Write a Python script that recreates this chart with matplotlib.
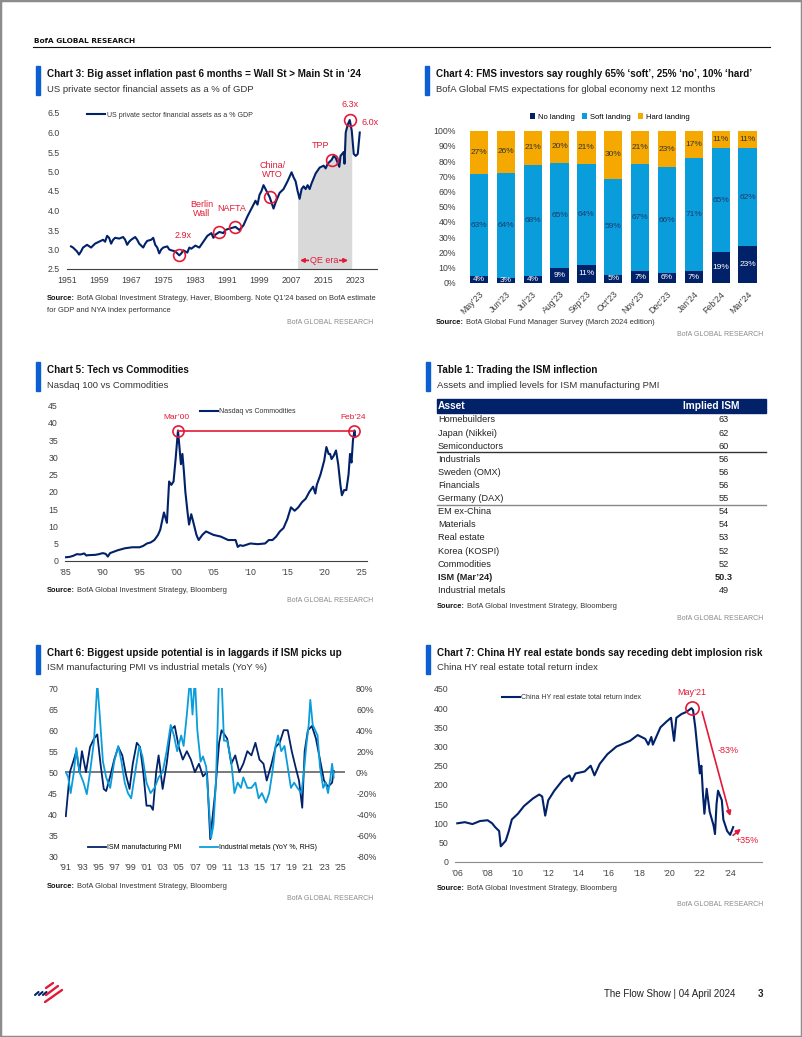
import matplotlib.pyplot as plt
import numpy as np
from matplotlib.patches import Rectangle
from matplotlib.lines import Line2D
from matplotlib.transforms import ScaledTranslation

plt.rcParams['font.family'] = ['Liberation Sans Narrow', 'Liberation Sans', 'DejaVu Sans']

NAVY = '#012169'
LBLUE = '#0a9ddb'
GOLD = '#f5a800'
RED = '#e31937'
BARBLUE = '#0b5fd3'
TXT = '#404040'

# ---- Chart 3: US private sector financial assets as % of GDP
years3 = [1952.0, 1952.5, 1953.0, 1953.5, 1954.0, 1954.5, 1955.0, 1956.0, 1957.0, 1957.5,
          1958.0, 1959.0, 1960.0, 1960.5, 1961.0, 1961.5, 1962.0, 1962.5, 1963.0, 1964.0,
          1965.0, 1965.5, 1966.0, 1966.5, 1967.0, 1968.0, 1968.5, 1969.0, 1970.0, 1970.5,
          1971.0, 1972.0, 1972.5, 1973.0, 1973.5, 1974.0, 1974.5, 1975.0, 1976.0, 1976.5,
          1977.0, 1978.0, 1979.0, 1979.5, 1980.0, 1981.0, 1981.5, 1982.0, 1983.0, 1984.0,
          1985.0, 1986.0, 1987.0, 1987.5, 1988.0, 1989.0, 1990.0, 1990.5, 1991.0, 1992.0,
          1993.0, 1994.0, 1995.0, 1996.0, 1997.0, 1998.0, 1998.5, 1999.0, 1999.5, 2000.0,
          2000.5, 2001.0, 2001.5, 2002.0, 2002.5, 2003.0, 2004.0, 2005.0, 2006.0, 2007.0,
          2007.5, 2008.0, 2008.5, 2009.0, 2009.5, 2010.0, 2010.5, 2011.0, 2011.5, 2012.0,
          2013.0, 2014.0, 2015.0, 2015.5, 2016.0, 2017.0, 2017.5, 2018.0, 2018.9, 2019.2,
          2020.0, 2020.2, 2020.5, 2021.0, 2021.5, 2022.0, 2022.5, 2023.0, 2023.5, 2024.0]
assets3 = [3.08, 3.05, 3.00, 2.95, 2.87, 2.95, 3.05, 3.12, 3.05, 3.10,
           3.15, 3.20, 3.25, 3.20, 3.35, 3.30, 3.15, 3.25, 3.30, 3.28,
           3.32, 3.25, 3.12, 3.20, 3.25, 3.32, 3.25, 3.15, 3.05, 3.15,
           3.22, 3.25, 3.30, 3.12, 3.05, 2.90, 3.00, 3.05, 3.08, 3.00,
           2.98, 2.95, 2.85, 2.90, 2.98, 2.92, 3.05, 3.02, 3.10, 3.05,
           3.20, 3.35, 3.42, 3.30, 3.38, 3.45, 3.42, 3.50, 3.52, 3.55,
           3.58, 3.50, 3.62, 3.85, 4.05, 4.25, 4.15, 4.40, 4.50, 4.65,
           4.55, 4.45, 4.35, 4.20, 4.05, 4.20, 4.45, 4.55, 4.75, 4.98,
           4.85, 4.75, 4.50, 4.30, 4.55, 4.62, 4.55, 4.65, 4.55, 4.70,
           4.95, 5.10, 5.15, 5.08, 5.20, 5.30, 5.40, 5.35, 5.12, 5.40,
           5.50, 5.20, 6.00, 6.20, 6.32, 6.05, 5.45, 5.40, 5.45, 6.00]
event_years3 = [1979.0, 1989.0, 1993.0, 2001.5, 2017.0, 2021.5]
event_labels3 = ['2.9x', 'Berlin\nWall', 'NAFTA', 'China/\nWTO', 'TPP', '6.3x']

# ---- Chart 4: FMS landing expectations
months4 = ['May’23', 'Jun’23', 'Jul’23', 'Aug’23', 'Sep’23', 'Oct’23',
           'Nov’23', 'Dec’23', 'Jan’24', 'Feb’24', 'Mar’24']
no_landing = [4, 3, 4, 9, 11, 5, 7, 6, 7, 19, 23]
soft_landing = [63, 64, 68, 65, 64, 59, 67, 66, 71, 65, 62]
hard_landing = [27, 26, 21, 20, 21, 30, 21, 23, 17, 11, 11]

# ---- Chart 5: Nasdaq 100 vs commodities
years5 = [1985.0, 1985.5, 1986.0, 1986.5, 1987.0, 1987.5, 1987.8, 1988.0, 1989.0, 1989.5,
          1990.0, 1990.4, 1990.7, 1991.0, 1991.5, 1992.0, 1993.0, 1994.0, 1995.0, 1995.5,
          1996.0, 1996.5, 1997.0, 1997.5, 1997.8, 1998.3, 1998.7, 1999.0, 1999.3, 1999.6,
          1999.9, 2000.2, 2000.4, 2000.6, 2000.8, 2001.0, 2001.2, 2001.5, 2001.7, 2002.0,
          2002.3, 2002.7, 2003.0, 2003.5, 2004.0, 2004.5, 2005.0, 2006.0, 2007.0, 2008.0,
          2008.3, 2008.6, 2009.0, 2010.0, 2011.0, 2012.0, 2012.5, 2013.0, 2013.5, 2014.0,
          2014.5, 2015.0, 2015.5, 2016.0, 2016.5, 2017.0, 2017.5, 2018.0, 2018.5, 2018.8,
          2019.0, 2019.5, 2020.0, 2020.3, 2020.6, 2020.8, 2021.0, 2021.3, 2021.6, 2021.9,
          2022.2, 2022.4, 2022.7, 2023.0, 2023.3, 2023.5, 2023.7, 2023.9, 2024.1, 2024.2]
tech5 = [1.0, 1.1, 1.4, 1.9, 1.8, 2.1, 1.5, 1.6, 1.7, 1.9,
         2.2, 2.0, 1.2, 2.2, 2.6, 3.0, 3.6, 3.9, 3.9, 4.3,
         5.0, 5.3, 6.0, 7.5, 9.0, 14.0, 11.0, 23.0, 22.0, 23.0,
         30.0, 37.8, 33.0, 28.0, 31.0, 26.0, 20.0, 14.0, 10.5, 13.5,
         11.0, 7.5, 6.0, 7.5, 8.5, 8.0, 7.5, 7.0, 6.0, 6.0,
         4.0, 4.5, 4.3, 5.0, 4.8, 5.0, 6.0, 6.0, 7.0, 8.5,
         9.5, 12.0, 15.5, 14.5, 15.5, 17.0, 18.0, 20.0, 21.5, 19.5,
         22.0, 25.0, 29.0, 33.0, 31.0, 31.0, 29.5, 30.5, 32.0, 28.0,
         22.0, 19.0, 20.5, 20.5, 25.0, 31.0, 28.5, 35.0, 37.8, 36.0]

# ---- Table 1: implied ISM levels
table_assets = ['Homebuilders', 'Japan (Nikkei)', 'Semiconductors', 'Industrials', 'Sweden (OMX)',
                'Financials', 'Germany (DAX)', 'EM ex-China', 'Materials', 'Real estate',
                'Korea (KOSPI)', 'Commodities', 'ISM (Mar’24)', 'Industrial metals']
table_ism = [63, 62, 60, 56, 56, 56, 55, 54, 54, 53, 52, 52, 50.3, 49]

# ---- Chart 6: ISM PMI vs industrial metals YoY
ism_years = [1991.0, 1991.5, 1992.0, 1992.3, 1992.7, 1993.0, 1993.5, 1994.0, 1994.5, 1994.9,
             1995.3, 1995.7, 1996.0, 1996.5, 1997.0, 1997.5, 1998.0, 1998.5, 1998.9, 1999.3,
             1999.8, 2000.2, 2000.6, 2001.0, 2001.5, 2001.8, 2002.2, 2002.5, 2003.0, 2003.5,
             2004.0, 2004.5, 2005.0, 2005.5, 2006.0, 2006.5, 2007.0, 2007.5, 2008.0, 2008.5,
             2008.9, 2009.5, 2010.0, 2010.3, 2011.0, 2011.5, 2012.0, 2012.5, 2013.0, 2013.5,
             2014.0, 2014.5, 2015.0, 2015.5, 2015.9, 2016.5, 2017.0, 2017.5, 2018.0, 2018.5,
             2019.0, 2019.5, 2019.9, 2020.3, 2020.6, 2021.0, 2021.5, 2022.0, 2022.5, 2023.0,
             2023.5, 2024.0, 2024.2]
ism_pmi = [39.5, 50, 53, 55, 50, 55, 50, 56, 58, 59,
           52, 46, 45.5, 49, 53, 56, 54, 49, 46, 52,
           57, 56, 50, 42, 42, 41, 50, 54, 46, 52,
           60, 61, 56, 53, 55, 53, 50, 52, 49, 50,
           34, 45, 57, 60, 58, 52, 54, 50, 52, 55,
           54, 57, 53, 52, 48, 52, 56, 57, 60, 60,
           55, 51, 48, 41.5, 55, 60, 61, 58, 53, 48,
           46.5, 47.5, 50.3]
metal_years = [1991.0, 1991.3, 1991.6, 1992.0, 1992.3, 1992.7, 1993.2, 1993.6, 1994.0, 1994.5,
               1994.9, 1995.2, 1995.6, 1996.0, 1996.5, 1997.0, 1997.5, 1997.9, 1998.3, 1998.7,
               1999.1, 1999.6, 2000.1, 2000.5, 2001.0, 2001.5, 2002.0, 2002.5, 2003.0, 2003.5,
               2004.0, 2004.4, 2004.8, 2005.3, 2005.6, 2006.0, 2006.4, 2006.7, 2007.0, 2007.3,
               2007.7, 2008.0, 2008.4, 2008.8, 2009.0, 2009.3, 2009.6, 2009.8, 2010.0, 2010.3,
               2010.6, 2011.0, 2011.5, 2011.9, 2012.3, 2012.7, 2013.0, 2013.5, 2014.0, 2014.5,
               2014.9, 2015.3, 2015.8, 2016.2, 2016.6, 2017.0, 2017.3, 2017.7, 2018.1, 2018.5,
               2018.9, 2019.3, 2019.7, 2020.2, 2020.5, 2020.8, 2021.1, 2021.3, 2021.6, 2021.9,
               2022.2, 2022.5, 2022.9, 2023.2, 2023.5, 2023.8, 2024.0, 2024.2]
metals_yoy = [0, -5, -20, 0, 23, 0, -10, -21, 0, 30,
              85, 55, 10, -5, -15, 10, 25, 10, -10, -20,
              -25, 0, 25, 15, -10, -20, -15, -5, 0, 20,
              45, 35, 20, 35, 25, 55, 90, 55, 90, 40,
              10, 15, 5, -40, -63, -50, -10, 40, 95, 90,
              30, 30, 10, -20, -10, -15, -5, -15, -15, -10,
              -25, -20, -29, -20, 0, 25, 35, 20, 25, 5,
              -15, -10, -15, -20, 0, 25, 45, 69, 45, 40,
              35, 5, -15, -10, -20, -5, 8, -5]

# ---- Chart 7: China HY real estate total return index
years7 = [2006.0, 2006.5, 2007.0, 2007.5, 2008.0, 2008.3, 2008.5, 2008.76, 2008.87, 2009.2,
          2009.4, 2009.6, 2010.0, 2010.4, 2011.0, 2011.4, 2011.6, 2011.8, 2012.0, 2012.4,
          2013.0, 2013.4, 2013.55, 2013.8, 2014.4, 2014.8, 2015.05, 2015.4, 2015.9, 2016.5,
          2017.4, 2017.9, 2018.4, 2018.6, 2018.8, 2018.9, 2019.4, 2019.8, 2020.1, 2020.3,
          2020.45, 2020.8, 2021.1, 2021.45, 2021.55, 2021.7, 2021.85, 2022.0, 2022.1, 2022.2,
          2022.3, 2022.45, 2022.65, 2022.9, 2023.0, 2023.1, 2023.2, 2023.45, 2023.55, 2023.8,
          2024.0, 2024.2]
china_hy = [100, 103, 98, 106, 108, 100, 90, 80, 40, 55,
            80, 110, 125, 145, 165, 175, 170, 120, 160, 185,
            215, 225, 210, 230, 235, 250, 225, 255, 280, 300,
            315, 330, 320, 305, 325, 305, 350, 365, 375, 315,
            375, 385, 390, 400, 395, 350, 290, 230, 250, 180,
            125, 190, 130, 95, 72, 150, 185, 160, 110, 80,
            70, 90]

W, H = 802, 1037
fig = plt.figure(figsize=(W / 100, H / 100), dpi=100)
renderer = fig.canvas.get_renderer()


def box(l, t, r, b):
    return [l / W, 1 - b / H, (r - l) / W, (b - t) / H]


def ftext(x, y, s, **kw):
    kw.setdefault('va', 'center')
    return fig.text(x / W, 1 - y / H, s, **kw)


def seg(x0, y0, x1, y1, **kw):
    fig.add_artist(Line2D([x0 / W, x1 / W], [1 - y0 / H, 1 - y1 / H], **kw))


def heading(x, y, title, sub):
    fig.patches.append(Rectangle(((x - 11) / W, 1 - (y + 21) / H), 3.5 / W, 29 / H,
                                 transform=fig.transFigure, color=BARBLUE))
    ftext(x, y, title, fontsize=7.1, fontweight='bold', color='#111111')
    ftext(x, y + 15, sub, fontsize=6.8, color='#333333')


def source(x, y, lines):
    t = ftext(x, y, 'Source:', fontsize=5.4, fontweight='bold', color='#111111')
    x1 = t.get_window_extent(renderer).x1
    ftext(x1 + 2, y, lines[0], fontsize=5.4, color='#333333')
    for i, ln in enumerate(lines[1:]):
        ftext(x, y + 12 * (i + 1), ln, fontsize=5.4, color='#333333')


def brand(xr, y):
    ftext(xr, y, 'BofA GLOBAL RESEARCH', fontsize=5.0, color='#8a8a8a', ha='right')


def style(ax, bottom=True, spine='#404040'):
    for s in ['top', 'right', 'left']:
        ax.spines[s].set_visible(False)
    ax.spines['bottom'].set_visible(bottom)
    ax.spines['bottom'].set_color(spine)
    ax.tick_params(length=0, labelsize=6.3, labelcolor=TXT)
    ax.tick_params(axis='x', pad=5)
    ax.tick_params(axis='y', pad=5)
    ax.set_facecolor('none')


def small_legend(ax, x, y, **kw):
    leg = ax.legend(loc='center left', bbox_to_anchor=(x, y), frameon=False, fontsize=5.0,
                    borderpad=0, borderaxespad=0, handlelength=2.6, handletextpad=0.2, **kw)
    for t in leg.get_texts():
        t.set_color('#333333')
    return leg


# page furniture
ftext(34, 41, 'BofA GLOBAL RESEARCH', fontsize=5.3, fontweight='bold', family='DejaVu Sans', color='#111111')
seg(33, 47, 770, 47, color='#111111', lw=0.8)
fig.patches.append(Rectangle((0, 0), 1, 1, transform=fig.transFigure, fill=False,
                             edgecolor='#8c8c8c', lw=2.5))

# ================= Chart 3
heading(47, 74, 'Chart 3: Big asset inflation past 6 months = Wall St > Main St in ‘24',
        'US private sector financial assets as a % of GDP')
ax3 = fig.add_axes(box(67, 113, 377, 269))
y3 = np.array(years3)
v3 = np.array(assets3)
ax3.plot(y3, v3, color=NAVY, lw=1.5, label='US private sector financial assets as a % GDP')
ax3.fill_between(y3, 2.5, v3, where=(y3 >= 2008.5) & (y3 <= 2022.0), color='#d9d9d9', lw=0, zorder=0)
ax3.set_xlim(1951, 2028.3)
ax3.set_ylim(2.5, 6.5)
ax3.set_xticks(range(1951, 2024, 8))
ax3.set_yticks(np.arange(2.5, 6.51, 0.5))
ax3.set_yticklabels([f'{v:.1f}' for v in np.arange(2.5, 6.51, 0.5)])
style(ax3)
small_legend(ax3, 0.065, 0.985)
offsets3 = [(3, 11), (-13, 10), (-3, 10), (2, 13), (-8, 7), (0, 8)]
for yr, lab, off in zip(event_years3, event_labels3, offsets3):
    val = assets3[years3.index(yr)]
    ax3.plot(yr, val, 'o', ms=8.5, mfc='none', mec=RED, mew=1.2)
    ax3.annotate(lab, (yr, val), xytext=off, textcoords='offset points', ha='center',
                 va='bottom', fontsize=6.5, color=RED, linespacing=1.0)
ax3.annotate('6.0x', (years3[-1], assets3[-1]), xytext=(1, 4), textcoords='offset points',
             ha='left', va='bottom', fontsize=6.5, color=RED)
ax3.annotate('', xy=(2008.4, 2.72), xytext=(2021.8, 2.72),
             arrowprops=dict(arrowstyle='<|-|>', color=RED, lw=1.2, mutation_scale=6))
ax3.text(2015.1, 2.72, 'QE era', ha='center', va='center', fontsize=6.5, color=RED,
         bbox=dict(fc='#d9d9d9', ec='none', pad=0.5))
source(47, 298, ['BofA Global Investment Strategy, Haver, Bloomberg. Note Q1’24 based on BofA estimate',
                 'for GDP and NYA Index performance'])
brand(373, 322)

# ================= Chart 4
heading(436, 74, 'Chart 4: FMS investors say roughly 65% ‘soft’, 25% ‘no’, 10% ‘hard’',
        'BofA Global FMS expectations for global economy next 12 months')
ax4 = fig.add_axes(box(465.5, 130.7, 761, 282.7))
no_a = np.array(no_landing, float)
soft_a = np.array(soft_landing, float)
hard_a = np.array(hard_landing, float)
tot = no_a + soft_a + hard_a
x4 = np.arange(len(months4))
b1 = ax4.bar(x4, no_a / tot, width=0.68, color=NAVY, label='No landing')
b2 = ax4.bar(x4, soft_a / tot, width=0.68, bottom=no_a / tot, color=LBLUE, label='Soft landing')
b3 = ax4.bar(x4, hard_a / tot, width=0.68, bottom=(no_a + soft_a) / tot, color=GOLD, label='Hard landing')
ax4.bar_label(b1, labels=[f'{v}%' for v in no_landing], label_type='center', color='white', fontsize=6)
ax4.bar_label(b2, labels=[f'{v}%' for v in soft_landing], label_type='center', color='#1d3a6b', fontsize=6)
ax4.bar_label(b3, labels=[f'{v}%' for v in hard_landing], label_type='center', color='#333333', fontsize=6)
ax4.set_xlim(-0.5, len(months4) - 0.5)
ax4.set_ylim(0, 1)
ax4.set_yticks(np.arange(0, 1.01, 0.1))
ax4.set_yticklabels([f'{int(round(v * 100))}%' for v in np.arange(0, 1.01, 0.1)])
ax4.set_xticks(x4)
ax4.set_xticklabels(months4, rotation=45, ha='right', rotation_mode='anchor')
for lbl in ax4.get_xticklabels():
    lbl.set_transform(lbl.get_transform() + ScaledTranslation(0.05, 0, fig.dpi_scale_trans))
style(ax4, bottom=False)
ax4.tick_params(axis='y', pad=7)
leg4 = ax4.legend(loc='center left', bbox_to_anchor=(0.218, 1.09), ncol=3, frameon=False,
                  fontsize=5.5, borderpad=0, borderaxespad=0, handlelength=0.7, handleheight=0.7,
                  handletextpad=0.3, columnspacing=1.0)
source(436, 323, ['BofA Global Fund Manager Survey (March 2024 edition)'])
brand(763, 335)

# ================= Chart 5
heading(47, 370, 'Chart 5: Tech vs Commodities', 'Nasdaq 100 vs Commodities')
ax5 = fig.add_axes(box(65, 405.7, 367, 560.7))
ax5.plot(years5, tech5, color=NAVY, lw=1.5, label='Nasdaq vs Commodities')
ax5.set_xlim(1984.9, 2025.8)
ax5.set_ylim(0, 45)
ax5.set_yticks(range(0, 46, 5))
ax5.set_xticks(range(1985, 2026, 5))
ax5.set_xticklabels([f'’{y % 100:02d}' for y in range(1985, 2026, 5)])
style(ax5)
small_legend(ax5, 0.447, 0.961)
i00, i24 = years5.index(2000.2), years5.index(2024.1)
ax5.plot([years5[i00], years5[i24]], [tech5[i00], tech5[i00]], color=RED, lw=1.2)
for i, lab in [(i00, 'Mar’00'), (i24, 'Feb’24')]:
    ax5.plot(years5[i], tech5[i], 'o', ms=8, mfc='none', mec=RED, mew=1.2)
    ax5.annotate(lab, (years5[i], tech5[i]), xytext=(-1, 7), textcoords='offset points',
                 ha='center', va='bottom', fontsize=6, color=RED)
source(47, 590, ['BofA Global Investment Strategy, Bloomberg'])
brand(373, 601)

# ================= Table 1
heading(437, 370, 'Table 1: Trading the ISM inflection', 'Assets and implied levels for ISM manufacturing PMI')
fig.patches.append(Rectangle((436.7 / W, 1 - 412.7 / H), (766 - 436.7) / W, 13.4 / H,
                             transform=fig.transFigure, color=NAVY))
ftext(438, 406, 'Asset', fontsize=7.3, fontweight='bold', color='white')
ftext(739, 406, 'Implied ISM', fontsize=7.3, fontweight='bold', color='white', ha='right')
for i, (name, val) in enumerate(zip(table_assets, table_ism)):
    ry = 420 + i * 13.1
    wt = 'bold' if name.startswith('ISM') else 'normal'
    ftext(438, ry, name, fontsize=6.6, color='#222222', fontweight=wt)
    ftext(724, ry, f'{val:g}', fontsize=6.6, color='#222222', fontweight=wt, ha='center')
seg(436.7, 452, 766, 452, color='#333333', lw=1.0)
seg(436.7, 505.5, 766, 505.5, color='#888888', lw=1.0)
source(437, 607, ['BofA Global Investment Strategy, Bloomberg'])
brand(763, 618)

# ================= Chart 6
heading(47, 653, 'Chart 6: Biggest upside potential is in laggards if ISM picks up',
        'ISM manufacturing PMI vs industrial metals (YoY %)')
ax6 = fig.add_axes(box(65, 688.3, 345, 856))
ax6b = ax6.twinx()
ax6.axhline(50, color='#555555', lw=1.1, zorder=1)
ax6.plot(ism_years, ism_pmi, color=NAVY, lw=1.3, label='ISM manufacturing PMI', zorder=3)
ax6b.plot(metal_years, metals_yoy, color=LBLUE, lw=1.3, label='Industrial metals (YoY %, RHS)')
ax6.set_xlim(1990.9, 2025.6)
ax6.set_ylim(30, 70)
ax6b.set_ylim(-80, 80)
ax6.set_yticks(range(30, 71, 5))
ax6b.set_yticks(range(-80, 81, 20))
ax6b.set_yticklabels([f'{v}%' for v in range(-80, 81, 20)])
ax6.set_xticks(range(1991, 2026, 2))
ax6.set_xticklabels([f'’{y % 100:02d}' for y in range(1991, 2026, 2)])
style(ax6, bottom=False)
style(ax6b, bottom=False)
ax6b.tick_params(axis='y', pad=8)
h1, l1 = ax6.get_legend_handles_labels()
h2, l2 = ax6b.get_legend_handles_labels()
leg6 = ax6b.legend(h1 + h2, l1 + l2, loc='center left', bbox_to_anchor=(0.082, 0.048), ncol=2,
                   frameon=False, fontsize=5.0, borderpad=0, borderaxespad=0, handlelength=2.6,
                   handletextpad=0.2, columnspacing=2.6)
source(47, 887, ['BofA Global Investment Strategy, Bloomberg'])
brand(373, 898)

# ================= Chart 7
heading(437, 653, 'Chart 7: China HY real estate bonds say receding debt implosion risk',
        'China HY real estate total return index')
ax7 = fig.add_axes(box(455, 689, 762, 861.7))
ax7.plot(years7, china_hy, color=NAVY, lw=1.5, label='China HY real estate total return index')
ax7.set_xlim(2005.85, 2026.1)
ax7.set_ylim(0, 450)
ax7.set_yticks(range(0, 451, 50))
ax7.set_xticks(range(2006, 2025, 2))
ax7.set_xticklabels([f'’{y % 100:02d}' for y in range(2006, 2025, 2)])
style(ax7, spine='#8a8a8a')
small_legend(ax7, 0.152, 0.948)
ip = int(np.argmax(china_hy))
ax7.plot(years7[ip], china_hy[ip], 'o', ms=9.5, mfc='none', mec=RED, mew=1.2)
ax7.annotate('May’21', (years7[ip], china_hy[ip]), xytext=(0, 8), textcoords='offset points',
             ha='center', va='bottom', fontsize=6.5, color=RED)
ax7.annotate('', xy=(2024.05, 112), xytext=(2022.1, 398),
             arrowprops=dict(arrowstyle='-|>', color=RED, lw=1.2, mutation_scale=7))
ax7.text(2023.9, 291, '-83%', ha='center', va='center', fontsize=6.5, color=RED)
ax7.annotate('', xy=(2024.85, 90), xytext=(2024.05, 64),
             arrowprops=dict(arrowstyle='-|>', color=RED, lw=1.2, mutation_scale=7))
ax7.text(2025.1, 56, '+35%', ha='center', va='center', fontsize=6.5, color=RED)
source(437, 888, ['BofA Global Investment Strategy, Bloomberg'])
brand(763, 904)

# footer: flag-style logo and page label
for x0 in [35, 39, 43]:
    seg(x0, 995, x0 + 3.5, 992, color=NAVY, lw=1.5, solid_capstyle='round')
for x0, y0, x1, y1 in [(46, 988, 53, 983), (46, 995, 58, 986), (45, 1002, 62, 990)]:
    seg(x0, y0, x1, y1, color=RED, lw=1.7, solid_capstyle='round')
ftext(735, 994, 'The Flow Show | 04 April 2024', fontsize=7, color='#222222', ha='right')
ftext(760, 994, '3', fontsize=7, fontweight='bold', color='#222222', ha='center')

fig.savefig('out.png', dpi=100)
